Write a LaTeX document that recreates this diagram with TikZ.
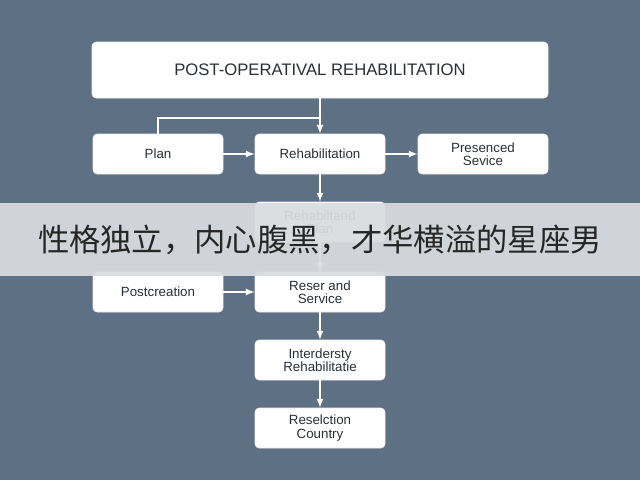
\documentclass[tikz,border=0pt]{standalone}
\usepackage{fontspec}
\setmainfont{Liberation Sans}
\newfontfamily\cjk{Noto Sans CJK SC}
\usetikzlibrary{positioning}
\definecolor{slate}{HTML}{5E7084}
\definecolor{boxtext}{HTML}{2A2F36}
\definecolor{band}{HTML}{D9DCDF}
\begin{document}
\begin{tikzpicture}[x=0.75pt,y=-0.75pt,>=latex]
\tikzset{
  stage/.style={draw=white!85!gray, fill=white, rounded corners=3pt, minimum width=97.5pt, minimum height=30pt, align=center, font=\fontsize{10}{10}\selectfont, text=boxtext},
  flow/.style={->, white, line width=1.3pt}
}
\fill[slate] (0,0) rectangle (640,480);
\useasboundingbox (0,0) rectangle (640,480);

\node[stage, minimum width=342pt, minimum height=42pt, font=\fontsize{12.5}{13}\selectfont] (title) at (320,70) {POST-OPERATIVAL REHABILITATION};

\node[stage] (plan) at (158,154) {Plan};
\node[stage] (rehab) at (320,154) {Rehabilitation};
\node[stage] (service) at (483,154) {Presenced\\Sevice};
\node[stage] (rehabplan) at (320,222) {Rehabiltand\\Plan};
\node[stage] (postcreation) at (158,292) {Postcreation};
\node[stage] (reser) at (320,292) {Reser and\\Service};
\node[stage] (inter) at (320,360) {Interdersty\\Rehabilitatie};
\node[stage] (reselction) at (320,428) {Reselction\\Country};

\coordinate (join) at (320,118);
\draw[white, line width=1.3pt] (plan.north) |- (join);
\draw[flow] (title.south) -- (rehab.north);
\draw[flow] (plan) -- (rehab);
\draw[flow] (rehab) -- (service);
\draw[flow] (rehab) -- (rehabplan);
\draw[flow] (rehabplan) -- (reser);
\draw[flow] (postcreation) -- (reser);
\draw[flow] (reser) -- (inter);
\draw[flow] (inter) -- (reselction);

% caption band
\fill[band, opacity=0.93] (0,203) rectangle (640,276);
\node[text=black!85, font=\cjk\fontsize{23.5}{24}\selectfont] (caption) at (320,240) {性格独立，内心腹黑，才华横溢的星座男};
\end{tikzpicture}
\end{document}
